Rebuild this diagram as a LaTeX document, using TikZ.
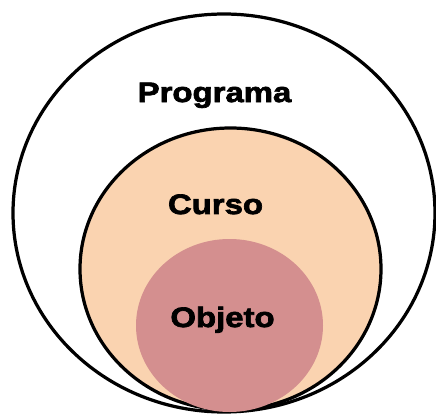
\documentclass[tikz,border=0pt]{standalone}
\usepackage{fontspec}
\usepackage{xcolor}
\newfontfamily\labelfont[FakeBold=2.5,FakeStretch=1.17]{Liberation Sans Bold}
\definecolor{cursofill}{RGB}{250,211,176}
\definecolor{objetofill}{RGB}{212,143,143}
\tikzset{
    ring/.style = {line width = 2.3pt, draw = black},
    lbl/.style = {anchor = base, inner sep = 0pt, font = \labelfont\fontsize{20}{24}\selectfont}
}

\begin{document}
\begin{tikzpicture}[x = 0.025cm, y = -0.025cm]

    \useasboundingbox (0,0) rectangle (436,414);

    \draw [ring, fill = white] (224,213) ellipse [x radius = 211, y radius = 199];
    \draw [ring, fill = cursofill] (230.5,269) ellipse [x radius = 150.5, y radius = 141];
    \fill [objetofill] (229.5,325.5) ellipse [x radius = 93.5, y radius = 86.5];

    \node[lbl] (programa) at (214.5,102) {Programa};
    \node[lbl] (curso) at (215.5,214) {Curso};
    \node[lbl] (objeto) at (222.5,327) {Objeto};

\end{tikzpicture}
\end{document}
